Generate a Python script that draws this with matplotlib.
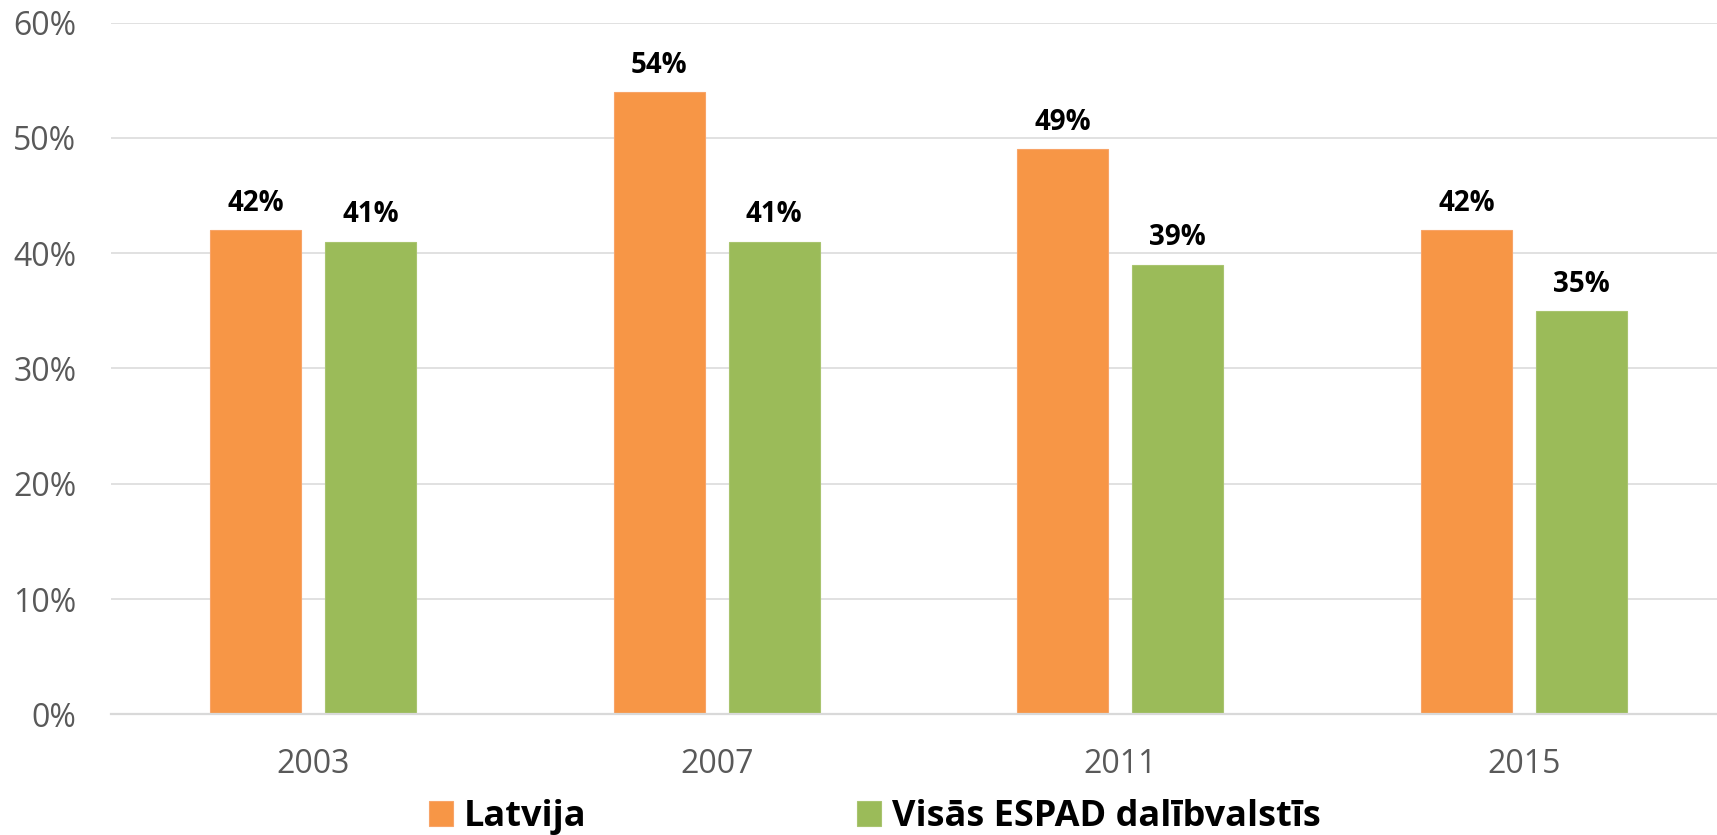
import matplotlib
matplotlib.use("Agg")
import matplotlib.pyplot as plt
import numpy as np

years = ["2003", "2007", "2011", "2015"]
latvija = [42, 54, 49, 42]
espad = [41, 41, 39, 35]
series_names = ["Latvija", "Visās ESPAD dalībvalstīs"]
y_ticks = [0, 10, 20, 30, 40, 50, 60]
y_tick_labels = ["0%", "10%", "20%", "30%", "40%", "50%", "60%"]

ORANGE = "#F79646"
GREEN = "#9BBB59"
GRID = "#D9D9D9"
TICK = "#595959"

plt.rcParams['font.family'] = ['Open Sans', 'DejaVu Sans']

W, H = 1717, 835
fig = plt.figure(figsize=(W / 100, H / 100), dpi=100)
ax = fig.add_axes([111 / W, (H - 714.3) / H, 1615 / W, 691.6 / H])

x = np.arange(len(years))
bw = 0.225
off = 0.1424
b1 = ax.bar(x - off, latvija, bw, color=ORANGE, edgecolor="#F8A468", linewidth=0.8, zorder=3, label=series_names[0])
b2 = ax.bar(x + off, espad, bw, color=GREEN, edgecolor="#A9C46F", linewidth=0.8, zorder=3, label=series_names[1])

for bars, vals in ((b1, latvija), (b2, espad)):
    for rect, v in zip(bars, vals):
        ax.annotate(f"{v}%", (rect.get_x() + rect.get_width() / 2, v),
                    xytext=(0, 13.9), textcoords="offset points",
                    ha="center", va="baseline", fontsize=20, fontweight="bold", color="black")

ax.set_xlim(-0.5, 3.5)
ax.set_ylim(0, 60)
ax.set_yticks(y_ticks)
ax.set_yticklabels(y_tick_labels)
ax.set_xticks(x)
ax.set_xticklabels(years)
ax.tick_params(axis="y", length=0, pad=25, labelsize=23, labelcolor=TICK)
ax.tick_params(axis="x", length=0, pad=24, labelsize=23, labelcolor=TICK)
ax.yaxis.grid(True, color=GRID, linewidth=1.1, zorder=0)
ax.set_axisbelow(True)
for s in ("top", "right", "left"):
    ax.spines[s].set_visible(False)
ax.spines["bottom"].set_color(GRID)
ax.spines["bottom"].set_linewidth(1.6)
ax.spines["bottom"].set_zorder(4)

fs = 26
px = fs * 100 / 72
leg = fig.legend(handles=[b1, b2], labels=series_names, loc="center",
                 bbox_to_anchor=(875 / W, (H - 817) / H), ncol=2, frameon=False,
                 prop={"size": fs, "weight": "bold"},
                 handlelength=24 / px, handleheight=24 / px, handletextpad=11 / px,
                 columnspacing=271 / px, borderpad=0, borderaxespad=0)

fig.savefig("out.png", dpi=100)
